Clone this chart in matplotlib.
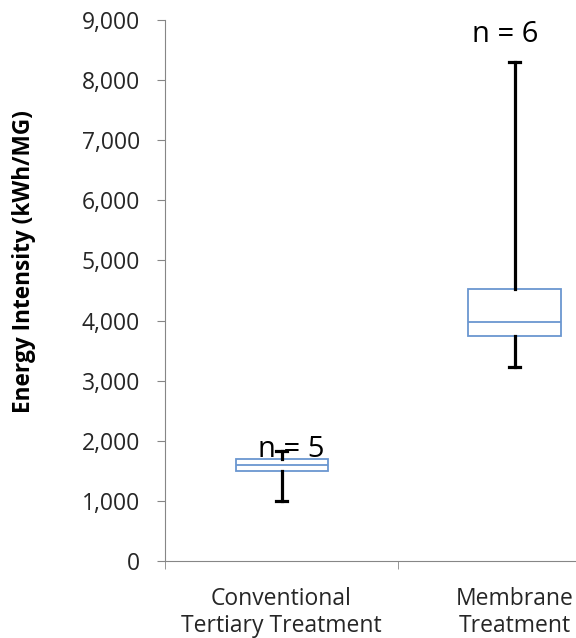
import matplotlib.pyplot as plt
from matplotlib.ticker import FuncFormatter, FixedLocator

plt.rcParams['font.family'] = ['Open Sans', 'DejaVu Sans']

# values (kWh/MG)
categories = ['Conventional\nTertiary Treatment', 'Membrane\nTreatment']
whisker_low = [1000, 3220]
q1 = [1500, 3750]
median = [1600, 3980]
q3 = [1690, 4520]
whisker_high = [1830, 8300]
counts = [5, 6]
label_y = [1730, 8630]

stats = []
for i in range(len(categories)):
    stats.append({'whislo': whisker_low[i], 'q1': q1[i], 'med': median[i],
                  'q3': q3[i], 'whishi': whisker_high[i], 'fliers': []})

fig = plt.figure(figsize=(5.76, 6.38), dpi=100)
ax = fig.add_axes([0.2865, 0.1207, 0.809, 0.848])

box_col = '#6a96d0'
ax.bxp(stats, positions=[1, 2], widths=0.395, capwidths=0.05,
       showfliers=False, patch_artist=True,
       boxprops=dict(facecolor='white', edgecolor=box_col, linewidth=1.3),
       medianprops=dict(color=box_col, linewidth=1.3),
       whiskerprops=dict(color='black', linewidth=2.3),
       capprops=dict(color='black', linewidth=2.3))

# n labels, slightly off-centre like the original
nx = [1.043, 1.96]
for i in range(len(categories)):
    ax.text(nx[i], label_y[i], 'n = %d' % counts[i], ha='center',
            va='baseline', fontsize=21, color='black')

ax.set_xlim(0.5, 2.5)
ax.set_ylim(0, 9000)
ax.set_yticks(range(0, 9001, 1000))
ax.yaxis.set_major_formatter(FuncFormatter(lambda v, p: '{:,.0f}'.format(v)))
ax.set_xticks([1, 2])
ax.set_xticklabels(categories, linespacing=1.12)
ax.xaxis.set_minor_locator(FixedLocator([0.5, 1.5, 2.5]))
ax.tick_params(axis='x', which='major', length=0, pad=19, labelsize=16.5,
               colors='#262626')
ax.tick_params(axis='x', which='minor', length=6, color='#868686')
ax.tick_params(axis='y', length=6, color='#868686', labelsize=16.5,
               labelcolor='#262626', pad=12)

for s in ['top', 'right']:
    ax.spines[s].set_visible(False)
for s in ['left', 'bottom']:
    ax.spines[s].set_color('#868686')

ax.set_ylabel('Energy Intensity (kWh/MG)', fontsize=16.3, fontweight='bold')
ax.yaxis.set_label_coords(-0.277, 0.5536)

fig.savefig('out.png', dpi=100)
